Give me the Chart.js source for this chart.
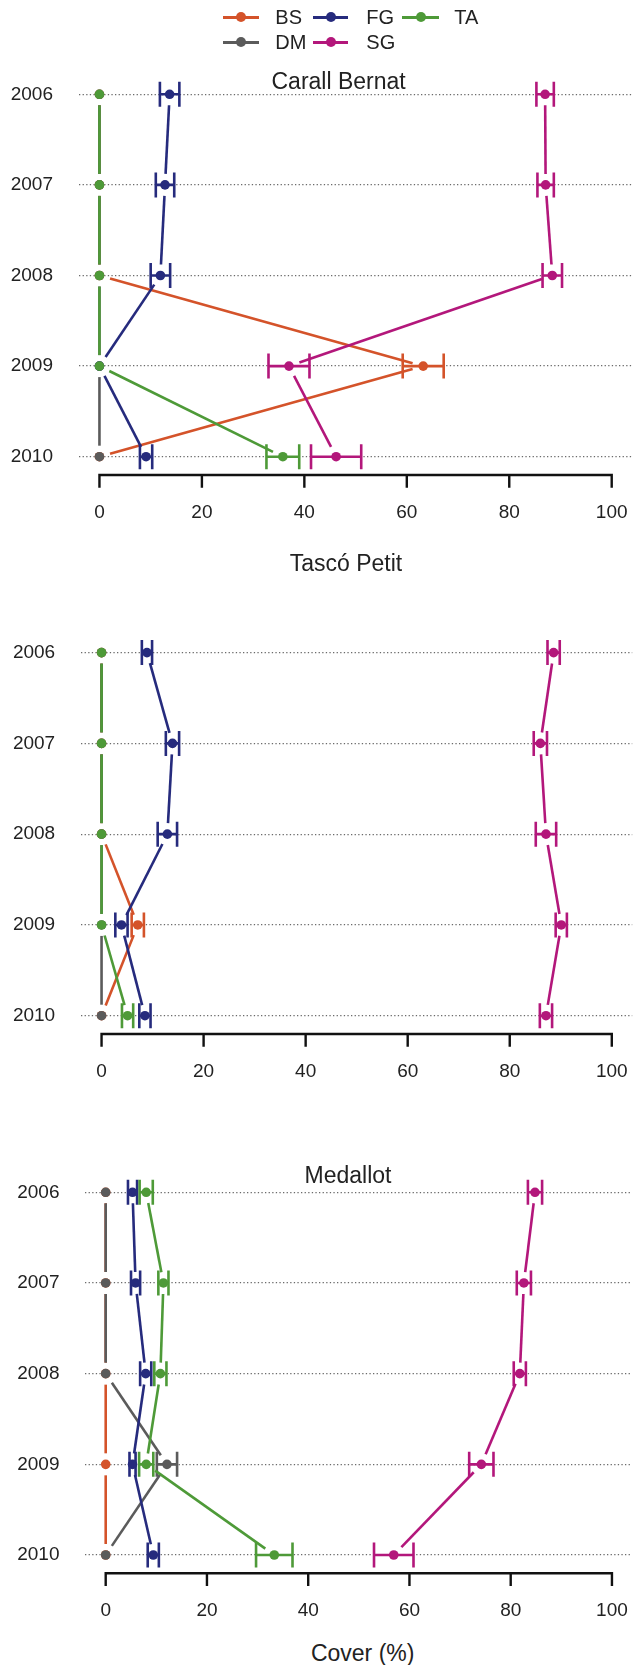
<!DOCTYPE html>
<html>
<head>
<meta charset="utf-8">
<title>Cover by year</title>
<script src="https://cdn.jsdelivr.net/npm/chart.js@4.4.1/dist/chart.umd.min.js"></script>
<style>
  html, body { margin: 0; padding: 0; background: #fff; }
  #page { position: relative; width: 637px; height: 1665px; overflow: hidden;
          font-family: "Liberation Sans", Arial, sans-serif; color: #222; }
  #page canvas { position: absolute; left: 0; }
  .txt { position: absolute; white-space: nowrap; line-height: 1; }
  .ttl { font-size: 23px; transform: translate(-50%, -50%); }
  .legtxt { font-size: 20px; transform: translateY(-50%); }
  .legline { position: absolute; height: 3px; }
  .legdot { position: absolute; width: 10px; height: 10px; border-radius: 50%; }
</style>
</head>
<body>
<div id="page"></div>
<script>
// ---- data ----
const years = [2006, 2007, 2008, 2009, 2010];
const xTicks = [0, 20, 40, 60, 80, 100];
const seriesNames = ['BS', 'DM', 'FG', 'SG', 'TA'];
const siteNames = ['Carall Bernat', 'Tascó Petit', 'Medallot'];
const axisTitle = 'Cover (%)';

// Carall Bernat: mean cover and half-width of the error bar
const cbBS = [0, 0, 0, 63.2, 0];
const cbBSErr = [0, 0, 0, 4.0, 0];
const cbDM = [0, 0, 0, 0, 0];
const cbDMErr = [0, 0, 0, 0, 0];
const cbFG = [13.7, 12.8, 11.9, 0, 9.1];
const cbFGErr = [1.9, 1.8, 1.9, 0, 1.2];
const cbSG = [87.0, 87.1, 88.4, 37.0, 46.2];
const cbSGErr = [1.7, 1.6, 1.9, 4.0, 4.9];
const cbTA = [0, 0, 0, 0, 35.8];
const cbTAErr = [0, 0, 0, 0, 3.2];

// Tascó Petit
const tpBS = [0, 0, 0, 7.1, 0];
const tpBSErr = [0, 0, 0, 1.2, 0];
const tpDM = [0, 0, 0, 0, 0];
const tpDMErr = [0, 0, 0, 0, 0];
const tpFG = [8.9, 13.9, 12.9, 3.9, 8.5];
const tpFGErr = [1.0, 1.3, 1.9, 1.2, 1.1];
const tpSG = [88.6, 86.0, 87.1, 90.1, 87.1];
const tpSGErr = [1.2, 1.3, 2.0, 1.1, 1.2];
const tpTA = [0, 0, 0, 0, 5.1];
const tpTAErr = [0, 0, 0, 0, 1.1];

// Medallot
const mdBS = [0, 0, 0, 0, 0];
const mdBSErr = [0, 0, 0, 0, 0];
const mdDM = [0, 0, 0, 12.1, 0];
const mdDMErr = [0, 0, 0, 2.0, 0];
const mdFG = [5.3, 5.9, 7.9, 5.3, 9.4];
const mdFGErr = [0.9, 0.9, 1.1, 0.6, 1.1];
const mdSG = [84.8, 82.6, 81.8, 74.2, 56.9];
const mdSGErr = [1.4, 1.4, 1.2, 2.4, 3.9];
const mdTA = [8.0, 11.4, 10.8, 8.0, 33.3];
const mdTAErr = [1.3, 1.0, 1.2, 1.4, 3.6];

// ---- appearance ----
const seriesColors = ['#D4532A', '#5B5B5B', '#262B7D', '#B3177B', '#4E9A38'];
const FONT = '"Liberation Sans", Arial, sans-serif';
const LINE_W = 2.6;   // series and error-bar stroke width
const GAP = 11;       // lines stop this far from each point
const CAP = 12.5;     // half height of error-bar caps
const CLEAR = 'rgba(0,0,0,0)';

// panel placement on the page (pixels)
const panelBoxes = [
  { top: 60,   height: 480, x0: 99.5,  x100: 613.0, row0: 94.3,   row4: 456.7,  tx: 338.6, ty: 80.6 },
  { top: 540,  height: 560, x0: 101.7, x100: 615.6, row0: 652.6,  row4: 1015.7, tx: 346.0, ty: 563.0 },
  { top: 1100, height: 530, x0: 106.0, x100: 619.7, row0: 1192.3, row4: 1555.0, tx: 348.0, ty: 1174.8 }
];

const siteSeries = [
  [[cbBS, cbBSErr], [cbDM, cbDMErr], [cbFG, cbFGErr], [cbSG, cbSGErr], [cbTA, cbTAErr]],
  [[tpBS, tpBSErr], [tpDM, tpDMErr], [tpFG, tpFGErr], [tpSG, tpSGErr], [tpTA, tpTAErr]],
  [[mdBS, mdBSErr], [mdDM, mdDMErr], [mdFG, mdFGErr], [mdSG, mdSGErr], [mdTA, mdTAErr]]
];

const page = document.getElementById('page');

function addText(cls, text, left, top) {
  const el = document.createElement('div');
  el.className = 'txt ' + cls;
  el.textContent = text;
  el.style.left = left + 'px';
  el.style.top = top + 'px';
  page.appendChild(el);
  return el;
}

// connecting lines (with gaps at the points), error bars and the x axis
const marksPlugin = {
  id: 'marks',
  beforeDatasetDraw(chart, args) {
    const ds = chart.data.datasets[args.index];
    const xs = chart.scales.x, ys = chart.scales.y;
    const ctx = chart.ctx;
    const pts = ds.data.map(d => ({ x: xs.getPixelForValue(d.x), y: ys.getPixelForValue(d.y) }));
    ctx.save();
    ctx.strokeStyle = ds.backgroundColor;
    ctx.lineWidth = LINE_W;
    ctx.lineCap = 'butt';
    for (let i = 0; i < pts.length - 1; i++) {
      const a = pts[i], b = pts[i + 1];
      const dx = b.x - a.x, dy = b.y - a.y, len = Math.hypot(dx, dy);
      if (len <= 2 * GAP) continue;
      const ux = dx / len, uy = dy / len;
      ctx.beginPath();
      ctx.moveTo(a.x + ux * GAP, a.y + uy * GAP);
      ctx.lineTo(b.x - ux * GAP, b.y - uy * GAP);
      ctx.stroke();
    }
    ds.errorBars.forEach((e, i) => {
      if (!e) return;
      const d = ds.data[i];
      const l = xs.getPixelForValue(d.x - e), r = xs.getPixelForValue(d.x + e);
      const y = ys.getPixelForValue(d.y);
      ctx.beginPath();
      ctx.moveTo(l, y); ctx.lineTo(r, y);
      ctx.moveTo(l, y - CAP); ctx.lineTo(l, y + CAP);
      ctx.moveTo(r, y - CAP); ctx.lineTo(r, y + CAP);
      ctx.stroke();
    });
    ctx.restore();
  },
  afterDraw(chart) {
    const xs = chart.scales.x;
    const ctx = chart.ctx;
    const y = chart.chartArea.bottom + 3.8;
    ctx.save();
    ctx.strokeStyle = '#111';
    ctx.lineWidth = 2.4;
    ctx.lineCap = 'square';
    ctx.beginPath();
    ctx.moveTo(xs.getPixelForValue(xTicks[0]), y);
    ctx.lineTo(xs.getPixelForValue(xTicks[xTicks.length - 1]), y);
    xTicks.forEach(v => {
      const px = xs.getPixelForValue(v);
      ctx.moveTo(px, y);
      ctx.lineTo(px, y + 11.5);
    });
    ctx.stroke();
    ctx.restore();
  }
};

panelBoxes.forEach((box, p) => {
  const canvas = document.createElement('canvas');
  canvas.width = 637;
  canvas.height = box.height;
  canvas.style.top = box.top + 'px';
  canvas.style.width = '637px';
  canvas.style.height = box.height + 'px';
  page.appendChild(canvas);

  const ppu = (box.x100 - box.x0) / 100;
  const chartLeft = box.x0 - 4 * ppu;
  const chartRight = box.x100 + 4 * ppu;
  const rowSp = (box.row4 - box.row0) / 4;
  const chartTop = box.row0 - 0.16 * rowSp - box.top;
  const chartBottom = box.row4 + 0.16 * rowSp - box.top;

  const datasets = siteSeries[p].map((s, k) => ({
    label: seriesNames[k],
    data: years.map((yr, i) => ({ x: s[0][i], y: yr })),
    errorBars: s[1],
    backgroundColor: seriesColors[k],
    borderColor: seriesColors[k],
    showLine: false,
    pointRadius: 4.8,
    pointBorderWidth: 0,
    pointHoverRadius: 4.8,
    order: seriesNames.length - k   // later series are drawn on top
  }));

  new Chart(canvas, {
    type: 'line',
    data: { datasets },
    options: {
      responsive: false,
      animation: false,
      devicePixelRatio: 1,
      events: [],
      layout: { padding: { left: 0, right: 637 - chartRight, top: chartTop, bottom: 0 } },
      plugins: { legend: { display: false }, title: { display: false }, tooltip: { enabled: false } },
      scales: {
        x: {
          type: 'linear', position: 'bottom', min: -4, max: 104,
          afterBuildTicks: s => { s.ticks = xTicks.map(v => ({ value: v })); },
          afterFit: s => { s.height = box.height - chartBottom; },
          // invisible tick marks keep the labels clear of the axis drawn by the plugin
          grid: { display: true, drawOnChartArea: false, drawTicks: true, tickLength: 30, tickColor: CLEAR },
          border: { display: false },
          ticks: { padding: 0, autoSkip: false, maxRotation: 0, color: '#222',
                   font: { family: FONT, size: 19 } }
        },
        y: {
          type: 'linear', position: 'left', reverse: true,
          min: years[0] - 0.16, max: years[years.length - 1] + 0.16,
          afterBuildTicks: s => { s.ticks = years.map(v => ({ value: v })); },
          afterFit: s => { s.width = chartLeft; },
          grid: { color: '#6b6b6b', lineWidth: 1.3, drawTicks: true, tickLength: 26, tickColor: CLEAR },
          border: { display: false, dash: [1.3, 2.3] },
          ticks: { padding: 0, color: '#222', callback: v => String(v),
                   font: { family: FONT, size: 19 } }
        }
      }
    },
    plugins: [marksPlugin]
  });

  addText('ttl', siteNames[p], box.tx, box.ty);
});

addText('ttl', axisTitle, 362.7, 1653);

// legend: two rows, filled column by column
const legendSlots = [
  { x1: 222.7, x2: 259.3, tx: 275.3, y: 17.3 },  // BS
  { x1: 222.7, x2: 259.3, tx: 275.3, y: 42.3 },  // DM
  { x1: 313.0, x2: 348.0, tx: 366.3, y: 17.3 },  // FG
  { x1: 313.0, x2: 348.0, tx: 366.3, y: 42.3 },  // SG
  { x1: 402.3, x2: 438.7, tx: 454.3, y: 17.3 }   // TA
];
seriesNames.forEach((name, k) => {
  const s = legendSlots[k];
  const line = document.createElement('div');
  line.className = 'legline';
  line.style.left = s.x1 + 'px';
  line.style.width = (s.x2 - s.x1) + 'px';
  line.style.top = (s.y - 1.5) + 'px';
  line.style.background = seriesColors[k];
  page.appendChild(line);
  const dot = document.createElement('div');
  dot.className = 'legdot';
  dot.style.left = ((s.x1 + s.x2) / 2 - 5) + 'px';
  dot.style.top = (s.y - 5) + 'px';
  dot.style.background = seriesColors[k];
  page.appendChild(dot);
  addText('legtxt', name, s.tx, s.y);
});
</script>
</body>
</html>
